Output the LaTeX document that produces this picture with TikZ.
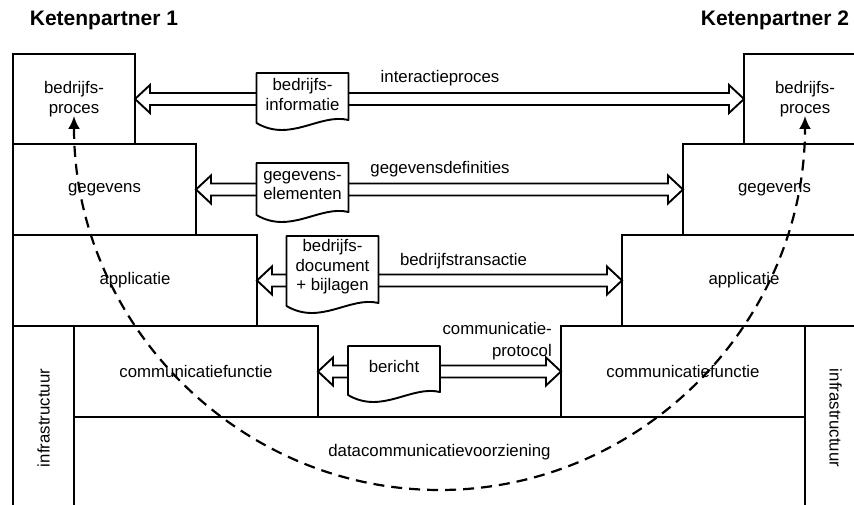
\documentclass[tikz,border=0pt]{standalone}
\usepackage{fontspec}
\setmainfont{Liberation Sans}
\usepackage{tikz}
\usetikzlibrary{arrows.meta,calc}

\begin{document}
\begin{tikzpicture}[x=1pt,y=1pt,
        font=\fontsize{16.8}{19.5}\selectfont,
        box/.style={draw,line width=1.9pt,outer sep=0pt,inner sep=0pt,align=center},
        doc/.style={fill=white,minimum width=92pt,inner sep=0pt,outer sep=0pt,align=center},
        docline/.style={draw,line width=1.9pt,line join=round},
        dblarrow/.style={line width=1.9pt,to path={let \p1=(\tikztostart), \p2=(\tikztotarget) in
            (\x1,\y1) -- (\x1+15pt,\y1+14pt) -- (\x1+15pt,\y1+6pt) -- (\x2-15pt,\y1+6pt)
            -- (\x2-15pt,\y1+14pt) -- (\x2,\y1) -- (\x2-15pt,\y1-14pt) -- (\x2-15pt,\y1-6pt)
            -- (\x1+15pt,\y1-6pt) -- (\x1+15pt,\y1-14pt) -- cycle}},
        dashline/.style={line width=2.2pt,dash pattern=on 11pt off 7pt},
        titel/.style={font=\fontsize{21}{24}\selectfont\bfseries}]
    \useasboundingbox (0,0) rectangle (854,505);
    \clip (0,0) rectangle (854,505);

    \node[titel] (kp1) at (104,485) {Ketenpartner 1};
    \node[titel] (kp2) at (775,485) {Ketenpartner 2};

    \node[box,minimum width=122pt,minimum height=90pt] (bp1)
        at (74,406) {bedrijfs-\\proces};
    \node[box,minimum width=183pt,minimum height=91pt] (gg1)
        at (104.5,315.5) {gegevens};
    \node[box,minimum width=244pt,minimum height=91pt] (ap1)
        at (135,224.5) {applicatie};
    \node[box,minimum width=244pt,minimum height=91pt] (cf1)
        at (196,133.5) {communicatiefunctie};
    \node[box,rotate=90,minimum width=184pt,minimum height=61pt] (if1)
        at (43.5,87) {infrastructuur};

    \node[box,minimum width=122pt,minimum height=90pt] (bp2)
        at (805,406) {bedrijfs-\\proces};
    \node[box,minimum width=183pt,minimum height=91pt] (gg2)
        at (774.5,315.5) {gegevens};
    \node[box,minimum width=244pt,minimum height=91pt] (ap2)
        at (744,224.5) {applicatie};
    \node[box,minimum width=244pt,minimum height=91pt] (cf2)
        at (683,133.5) {communicatiefunctie};
    \node[box,rotate=-90,minimum width=184pt,minimum height=61pt] (if2)
        at (835.5,87) {infrastructuur};

    \node[box,minimum width=731pt,minimum height=93pt] (dc) at (439.5,41.5) {};
    \node (dclabel) at (439.5,53) {datacommunicatievoorziening};

    \draw[dblarrow] (bp1.east) to (bp2.west);
    \draw[dblarrow] (gg1.east) to (gg2.west);
    \draw[dblarrow] (ap1.east) to (ap2.west);
    \draw[dblarrow] (cf1.east) to (cf2.west);

    \node[doc,minimum height=43pt] (d1) at (302.5,410.5) {bedrijfs-\\informatie};
    \draw[docline] (d1.north west) -- (d1.north east) -- ([yshift=-4pt]d1.south east)
        .. controls +(-29,7) and +(34,-20) .. ([yshift=-7pt]d1.south west) -- cycle;
    \node[doc,minimum height=45pt] (d2) at (302.5,319.5) {gegevens-\\elementen};
    \draw[docline] (d2.north west) -- (d2.north east) -- ([yshift=-4pt]d2.south east)
        .. controls +(-29,7) and +(34,-20) .. ([yshift=-7pt]d2.south west) -- cycle;
    \node[doc,minimum height=62pt] (d3) at (332.5,238) {bedrijfs-\\document\\+ bijlagen};
    \draw[docline] (d3.north west) -- (d3.north east) -- ([yshift=-5pt]d3.south east)
        .. controls +(-29,7) and +(34,-20) .. ([yshift=-8pt]d3.south west) -- cycle;
    \node[doc,minimum height=42pt] (d4) at (394,138) {bericht};
    \draw[docline] (d4.north west) -- (d4.north east) -- ([yshift=-4pt]d4.south east)
        .. controls +(-29,7) and +(34,-20) .. ([yshift=-7pt]d4.south west) -- cycle;

    \node (l1) at (440,427) {interactieproces};
    \node (l2) at (440,336) {gegevensdefinities};
    \node (l3) at (463.5,244) {bedrijfstransactie};
    \node[align=right,anchor=east,inner sep=0pt] (l4) at (552,164) {communicatie-\\[2pt]protocol};

    \draw[dashline,{Latex[length=13pt,width=12pt]}-{Latex[length=13pt,width=12pt]}]
        ([yshift=-17pt]bp1.center) arc[start angle=180,end angle=360,x radius=365.5,y radius=374];
\end{tikzpicture}
\end{document}
